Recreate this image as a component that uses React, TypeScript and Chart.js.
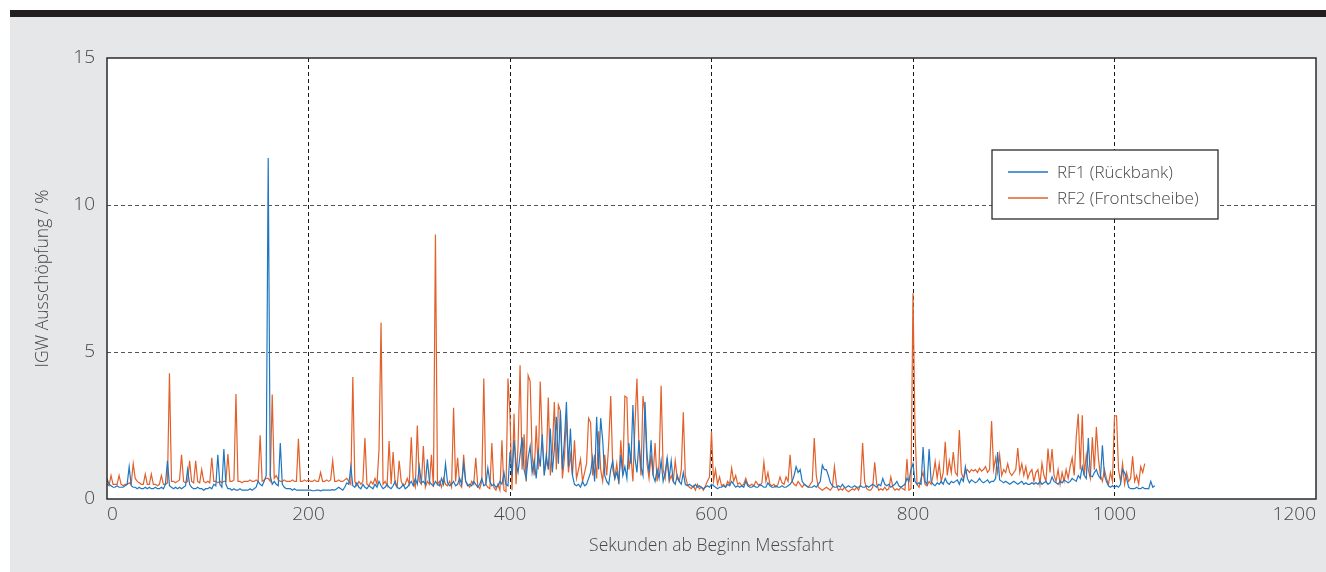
import React, { useEffect, useRef } from "react";
import { Chart, registerables } from "chart.js";

Chart.register(...registerables);

// sampling step of the recorded series (seconds)
const STEP_SECONDS = 2;

const X_TICKS = [0, 200, 400, 600, 800, 1000, 1200];
const Y_TICKS = [0, 5, 10, 15];

const SERIES_LABELS = ["RF1 (Rückbank)", "RF2 (Frontscheibe)"];

// RF1 (Rückbank), one value every 2 s starting at t = 0
const RF1 = [
  0.7, 0.5, 0.45, 0.4, 0.4, 0.45, 0.4, 0.4, 0.4, 0.45, // 0
  0.5, 1.1, 0.45, 0.4, 0.4, 0.35, 0.4, 0.35, 0.35, 0.4, // 20
  0.35, 0.4, 0.35, 0.35, 0.4, 0.35, 0.35, 0.4, 0.35, 0.5, // 40
  1.3, 0.45, 0.4, 0.35, 0.4, 0.35, 0.4, 0.35, 0.4, 0.45, // 60
  1.0, 0.5, 0.4, 0.35, 0.35, 0.4, 0.35, 0.35, 0.3, 0.35, // 80
  0.35, 0.4, 0.35, 0.5, 0.45, 1.5, 0.5, 0.4, 1.7, 0.5, // 100
  0.35, 0.35, 0.3, 0.35, 0.3, 0.3, 0.35, 0.3, 0.3, 0.3, // 120
  0.3, 0.35, 0.3, 0.35, 0.4, 0.6, 0.5, 0.45, 0.6, 0.8, // 140
  11.6, 0.8, 0.5, 0.6, 0.5, 0.45, 1.9, 0.5, 0.4, 0.35, // 160
  0.35, 0.35, 0.3, 0.35, 0.3, 0.3, 0.3, 0.3, 0.3, 0.3, // 180
  0.3, 0.3, 0.28, 0.28, 0.3, 0.3, 0.28, 0.3, 0.3, 0.3, // 200
  0.3, 0.3, 0.32, 0.3, 0.35, 0.4, 0.35, 0.3, 0.4, 0.55, // 220
  0.5, 1.1, 0.45, 0.4, 0.55, 0.4, 0.35, 0.5, 0.4, 0.35, // 240
  0.45, 0.4, 0.35, 0.5, 0.4, 0.6, 0.45, 0.35, 0.4, 0.5, // 260
  0.4, 0.35, 0.45, 0.6, 0.4, 0.35, 0.4, 0.5, 0.35, 0.4, // 280
  0.5, 0.6, 0.45, 0.7, 0.5, 1.1, 0.55, 0.6, 0.5, 1.35, // 300
  0.6, 0.5, 0.45, 0.6, 0.5, 0.45, 0.7, 0.5, 1.2, 0.55, // 320
  0.45, 0.5, 0.6, 0.45, 0.5, 0.7, 0.5, 1.2, 0.6, 0.45, // 340
  0.5, 0.45, 0.6, 0.5, 0.4, 0.5, 0.7, 0.45, 0.5, 1.05, // 360
  0.6, 0.45, 0.5, 0.4, 0.45, 0.6, 0.5, 0.9, 0.5, 0.45, // 380
  1.6, 0.8, 2.0, 1.2, 0.9, 1.5, 2.1, 1.0, 0.7, 1.4, // 400
  1.8, 0.9, 1.3, 0.7, 1.6, 1.1, 2.2, 0.8, 1.5, 1.0, // 420
  2.4, 0.9, 1.7, 2.8, 1.2, 3.0, 1.0, 2.0, 3.3, 1.1, // 440
  2.4, 0.8, 0.5, 0.45, 0.5, 0.4, 0.6, 0.45, 0.5, 0.7, // 460
  0.9, 1.4, 0.6, 2.8, 1.0, 2.75, 2.0, 0.8, 0.6, 0.5, // 480
  1.0, 1.3, 0.7, 0.9, 0.6, 1.5, 0.8, 1.1, 0.7, 1.9, // 500
  1.2, 3.2, 1.4, 0.9, 2.0, 1.1, 0.8, 3.3, 1.5, 0.9, // 520
  2.0, 0.8, 0.6, 1.0, 0.7, 1.3, 0.6, 0.9, 1.4, 0.7, // 540
  1.3, 0.6, 0.5, 0.8, 0.6, 0.5, 0.9, 0.5, 0.45, 0.5, // 560
  0.45, 0.4, 0.5, 0.4, 0.45, 0.4, 0.35, 0.4, 0.45, 0.4, // 580
  0.5, 0.45, 0.4, 0.35, 0.4, 0.4, 0.45, 0.4, 0.5, 0.45, // 600
  0.6, 0.5, 0.4, 0.45, 0.4, 0.45, 0.4, 0.6, 0.45, 0.4, // 620
  0.4, 0.45, 0.4, 0.4, 0.5, 0.45, 0.4, 0.4, 0.55, 0.45, // 640
  0.4, 0.4, 0.45, 0.4, 0.4, 0.45, 0.4, 0.4, 0.45, 0.5, // 660
  0.6, 0.8, 1.1, 0.9, 1.0, 0.6, 0.5, 0.45, 0.4, 0.4, // 680
  0.4, 0.45, 0.4, 0.5, 0.6, 1.15, 1.0, 1.0, 0.8, 0.55, // 700
  0.45, 0.4, 0.4, 0.45, 0.4, 0.5, 0.4, 0.4, 0.45, 0.4, // 720
  0.4, 0.45, 0.4, 0.4, 0.45, 0.4, 0.4, 0.45, 0.4, 0.45, // 740
  0.5, 0.45, 0.4, 0.5, 0.45, 0.7, 0.5, 0.45, 0.5, 0.4, // 760
  0.45, 0.5, 0.6, 0.45, 0.4, 0.45, 0.5, 0.7, 0.6, 1.0, // 780
  1.2, 0.6, 0.5, 0.55, 0.5, 1.77, 0.6, 0.5, 1.7, 0.6, // 800
  0.5, 0.45, 0.55, 0.5, 0.6, 0.5, 0.7, 0.55, 0.5, 0.6, // 820
  0.55, 0.6, 0.65, 0.5, 0.7, 0.6, 1.1, 0.7, 0.55, 0.65, // 840
  0.6, 0.55, 0.6, 0.7, 0.6, 0.55, 0.6, 0.65, 0.55, 0.6, // 860
  0.6, 0.7, 1.6, 0.65, 0.6, 0.55, 0.6, 0.55, 0.5, 0.55, // 880
  0.6, 0.55, 0.5, 0.55, 0.6, 0.5, 0.55, 0.5, 0.5, 0.55, // 900
  0.5, 0.55, 0.5, 0.6, 0.5, 0.55, 0.6, 0.5, 0.55, 0.75, // 920
  0.6, 0.55, 0.5, 0.6, 0.55, 0.65, 0.6, 0.55, 0.6, 0.7, // 940
  0.65, 0.6, 0.8, 0.7, 1.1, 0.8, 0.7, 2.07, 0.8, 0.75, // 960
  0.9, 1.0, 0.8, 0.7, 1.83, 0.8, 0.6, 0.45, 0.4, 0.45, // 980
  0.4, 0.45, 0.4, 0.5, 1.0, 0.9, 0.7, 0.4, 0.35, 0.35, // 1000
  0.35, 0.4, 0.35, 0.35, 0.4, 0.35, 0.35, 0.35, 0.6, 0.4, // 1020
  0.45, // 1040
];

// RF2 (Frontscheibe), one value every 2 s starting at t = 0
const RF2 = [
  0.5, 0.45, 0.8, 0.5, 0.5, 0.5, 0.8, 0.5, 0.45, 0.5, // 0
  0.5, 0.55, 0.5, 1.2, 0.7, 0.6, 0.55, 0.5, 0.5, 0.85, // 20
  0.5, 0.5, 0.85, 0.5, 0.5, 0.45, 0.5, 0.8, 0.5, 0.5, // 40
  0.55, 4.28, 0.6, 0.6, 0.55, 0.6, 0.65, 1.5, 0.6, 0.55, // 60
  0.6, 1.3, 0.6, 0.55, 1.3, 0.6, 0.55, 1.0, 0.6, 0.55, // 80
  0.6, 0.55, 1.4, 0.6, 0.6, 0.55, 0.6, 0.55, 0.6, 0.6, // 100
  1.53, 0.6, 0.6, 0.65, 3.57, 0.6, 0.6, 0.55, 0.6, 0.6, // 120
  0.6, 0.65, 0.6, 0.6, 0.65, 0.6, 2.17, 0.6, 0.65, 0.7, // 140
  0.7, 0.6, 3.55, 0.7, 0.8, 0.65, 0.6, 0.6, 0.65, 0.6, // 160
  0.6, 0.6, 0.65, 0.6, 0.6, 2.05, 0.6, 0.6, 0.65, 0.6, // 180
  0.65, 0.6, 0.6, 0.65, 0.6, 0.6, 0.9, 0.6, 0.6, 0.65, // 200
  0.6, 0.65, 1.3, 0.6, 0.6, 0.65, 0.6, 0.6, 0.65, 0.7, // 220
  0.6, 0.5, 4.15, 0.6, 0.45, 0.6, 0.5, 0.6, 2.07, 0.5, // 240
  0.45, 0.6, 0.5, 0.7, 0.5, 1.7, 6.0, 0.5, 0.6, 0.45, // 260
  1.97, 0.5, 1.6, 0.5, 0.4, 1.3, 0.6, 0.45, 0.5, 0.7, // 280
  0.5, 2.1, 0.6, 0.4, 2.5, 0.6, 0.5, 1.8, 0.4, 0.6, // 300
  0.5, 1.5, 0.4, 9.0, 0.5, 0.6, 0.4, 0.7, 0.5, 0.45, // 320
  0.6, 0.4, 3.1, 0.6, 1.4, 0.5, 0.4, 1.5, 0.6, 0.5, // 340
  0.4, 0.6, 0.5, 1.4, 0.45, 0.35, 0.6, 4.1, 0.5, 0.4, // 360
  0.35, 1.9, 0.4, 0.3, 0.5, 0.3, 2.0, 0.3, 0.25, 4.1, // 380
  2.85, 0.3, 2.9, 0.5, 1.8, 4.55, 1.0, 2.2, 0.6, 4.2, // 400
  4.0, 1.5, 0.8, 2.5, 1.0, 4.0, 2.0, 0.9, 1.2, 3.45, // 420
  0.8, 1.6, 3.3, 1.0, 3.2, 3.0, 0.7, 1.4, 2.8, 0.9, // 440
  1.5, 0.8, 2.0, 0.7, 1.0, 1.35, 0.6, 0.9, 1.2, 2.75, // 460
  2.6, 0.8, 1.5, 0.7, 2.3, 1.0, 0.6, 1.5, 0.8, 1.9, // 480
  3.5, 1.0, 0.7, 1.2, 0.5, 2.0, 0.8, 3.5, 3.45, 1.0, // 500
  1.5, 0.6, 2.5, 4.1, 1.8, 0.8, 3.5, 2.9, 1.2, 0.7, // 520
  1.5, 0.8, 1.9, 0.6, 1.2, 3.85, 1.0, 0.7, 1.4, 0.6, // 540
  0.8, 0.6, 1.3, 0.7, 0.6, 1.0, 2.95, 0.8, 0.5, 0.4, // 560
  0.35, 0.45, 0.3, 0.5, 0.35, 0.4, 0.3, 0.45, 0.6, 0.75, // 580
  2.3, 0.6, 1.0, 0.5, 0.75, 0.45, 0.5, 0.4, 0.6, 0.5, // 600
  1.05, 0.6, 0.8, 0.5, 0.55, 0.45, 0.5, 0.7, 0.5, 0.45, // 620
  0.5, 0.45, 0.6, 0.5, 0.45, 0.55, 1.25, 0.6, 0.9, 0.5, // 640
  0.45, 0.5, 0.4, 0.5, 0.75, 0.55, 0.5, 0.75, 0.6, 1.5, // 660
  0.6, 0.5, 0.45, 0.6, 0.5, 0.4, 0.5, 0.45, 0.4, 0.5, // 680
  0.6, 2.07, 0.8, 0.4, 0.35, 0.3, 0.35, 0.4, 0.35, 0.3, // 700
  0.4, 1.1, 0.5, 0.3, 0.35, 0.3, 0.4, 0.3, 0.25, 0.3, // 720
  0.35, 0.3, 0.4, 0.3, 0.5, 1.9, 0.6, 0.35, 0.3, 0.3, // 740
  0.4, 1.25, 0.5, 0.3, 0.35, 0.3, 0.4, 0.3, 0.35, 0.75, // 760
  0.4, 0.3, 0.35, 0.3, 0.4, 0.35, 0.3, 1.36, 0.3, 0.35, // 780
  7.0, 2.3, 0.5, 0.4, 0.7, 0.9, 0.5, 0.45, 0.6, 0.5, // 800
  0.8, 1.27, 0.7, 1.2, 0.6, 0.9, 1.95, 0.8, 1.3, 0.9, // 820
  1.6, 0.9, 0.8, 2.35, 0.9, 0.7, 0.9, 1.0, 0.9, 1.0, // 840
  0.95, 1.0, 0.9, 1.05, 0.95, 1.0, 1.1, 0.9, 1.0, 2.65, // 860
  1.0, 1.4, 0.9, 1.5, 0.8, 1.0, 0.9, 1.2, 0.9, 0.8, // 880
  0.9, 1.0, 1.73, 0.9, 1.2, 0.8, 1.1, 0.7, 0.9, 1.0, // 900
  0.6, 0.9, 1.0, 0.5, 1.22, 0.8, 0.6, 1.72, 0.9, 1.7, // 920
  0.8, 0.6, 1.0, 0.5, 0.9, 0.6, 1.0, 0.7, 1.1, 1.4, // 940
  0.8, 2.1, 2.9, 1.0, 2.85, 0.8, 1.5, 1.0, 0.7, 2.1, // 960
  1.0, 2.45, 1.4, 0.8, 0.6, 1.0, 0.7, 0.5, 0.9, 0.6, // 980
  2.83, 2.83, 1.0, 0.6, 1.2, 0.5, 0.9, 0.6, 0.7, 1.45, // 1000
  0.6, 0.8, 0.5, 1.1, 0.9, 1.2, // 1020
];

const COLORS = ["#1f77c1", "#e2602a"];
const FONT_FAMILY = "'Open Sans', 'Noto Sans', sans-serif";
const TEXT_COLOR = "#474747";

const frameAndLegend = {
  id: "frameAndLegend",
  beforeDraw(chart: any) {
    const { ctx, chartArea } = chart;
    ctx.save();
    ctx.fillStyle = "#ffffff";
    ctx.fillRect(chartArea.left, chartArea.top, chartArea.right - chartArea.left, chartArea.bottom - chartArea.top);
    ctx.restore();
  },
  afterDraw(chart: any) {
    const { ctx, chartArea } = chart;
    ctx.save();
    ctx.strokeStyle = "#2b2b2b";
    ctx.lineWidth = 1.5;
    ctx.strokeRect(chartArea.left, chartArea.top, chartArea.right - chartArea.left, chartArea.bottom - chartArea.top);

    // legend box
    const bx = chartArea.left + 885;
    const by = chartArea.top + 92;
    const bw = 226;
    const bh = 69;
    ctx.fillStyle = "#ffffff";
    ctx.fillRect(bx, by, bw, bh);
    ctx.strokeStyle = "#2b2b2b";
    ctx.lineWidth = 1.3;
    ctx.strokeRect(bx, by, bw, bh);
    ctx.font = `300 17px ${FONT_FAMILY}`;
    ctx.textBaseline = "middle";
    ctx.textAlign = "left";
    chart.data.datasets.forEach((ds: any, i: number) => {
      const y = by + 22 + i * 26;
      ctx.strokeStyle = ds.borderColor;
      ctx.lineWidth = 1.3;
      ctx.beginPath();
      ctx.moveTo(bx + 16, y);
      ctx.lineTo(bx + 56, y);
      ctx.stroke();
      ctx.fillStyle = TEXT_COLOR;
      ctx.fillText(ds.label, bx + 65, y + 1);
    });
    ctx.restore();
  },
};

export default function App() {
  const canvasRef = useRef<HTMLCanvasElement | null>(null);

  useEffect(() => {
    if (!canvasRef.current) return;
    const series = [RF1, RF2];
    const chart = new Chart(canvasRef.current, {
      type: "line",
      data: {
        datasets: series.map((vals, k) => ({
          label: SERIES_LABELS[k],
          data: vals.map((y, i) => ({ x: i * STEP_SECONDS, y })),
          borderColor: COLORS[k],
          backgroundColor: COLORS[k],
          borderWidth: 1.2,
          pointRadius: 0,
          tension: 0,
          fill: false,
        })),
      },
      options: {
        animation: false,
        responsive: false,
        events: [],
        layout: { padding: { left: 0, top: 41, right: 10, bottom: 0 } },
        plugins: { legend: { display: false }, tooltip: { enabled: false } },
        scales: {
          x: {
            type: "linear",
            min: 0,
            max: 1200,
            afterFit: (s: any) => {
              s.height = 73;
            },
            afterBuildTicks: (s: any) => {
              s.ticks = X_TICKS.map((v) => ({ value: v }));
            },
            ticks: {
              padding: 4,
              align: "inner",
              color: TEXT_COLOR,
              font: { family: FONT_FAMILY, size: 19, weight: "300" },
              maxRotation: 0,
              autoSkip: false,
              callback: (v: any) => String(v),
            },
            grid: {
              color: (c: any) => (c.tick && (c.tick.value === 0 || c.tick.value === 1200) ? "rgba(0,0,0,0)" : "#1a1a1a"),
              lineWidth: 1,
              drawTicks: false,
            },
            border: { display: false, dash: [4, 3] },
            title: {
              display: true,
              text: "Sekunden ab Beginn Messfahrt",
              color: TEXT_COLOR,
              font: { family: FONT_FAMILY, size: 17.5, weight: "300", lineHeight: 1.2 },
              padding: { top: 0, bottom: 15.5 },
            },
          },
          y: {
            type: "linear",
            min: 0,
            max: 15,
            afterFit: (s: any) => {
              s.width = 97;
            },
            afterBuildTicks: (s: any) => {
              s.ticks = Y_TICKS.map((v) => ({ value: v }));
            },
            ticks: {
              padding: 12,
              color: TEXT_COLOR,
              font: { family: FONT_FAMILY, size: 19, weight: "300" },
              callback: (v: any) => String(v),
            },
            grid: {
              color: (c: any) => (c.tick && (c.tick.value === 0 || c.tick.value === 15) ? "rgba(0,0,0,0)" : "#555555"),
              lineWidth: 1,
              drawTicks: false,
            },
            border: { display: false, dash: [4, 3] },
            title: {
              display: true,
              text: "IGW Ausschöpfung / %",
              color: TEXT_COLOR,
              font: { family: FONT_FAMILY, size: 17.5, weight: "300", lineHeight: 1.2 },
              padding: { top: 22.5, bottom: 0 },
            },
          },
        },
      },
      plugins: [frameAndLegend],
    });
    return () => chart.destroy();
  }, []);

  return (
    <div style={{ position: "fixed", left: 0, top: 0, width: 1326, height: 572, background: "#ffffff", overflow: "hidden" }}>
      <div style={{ position: "absolute", left: 10, top: 10, width: 1316, height: 7, background: "#231f20" }} />
      <div style={{ position: "absolute", left: 10, top: 17, width: 1316, height: 555, background: "#e6e7e8" }}>
        <canvas ref={canvasRef} width={1316} height={555} style={{ display: "block", width: 1316, height: 555 }} />
      </div>
    </div>
  );
}
